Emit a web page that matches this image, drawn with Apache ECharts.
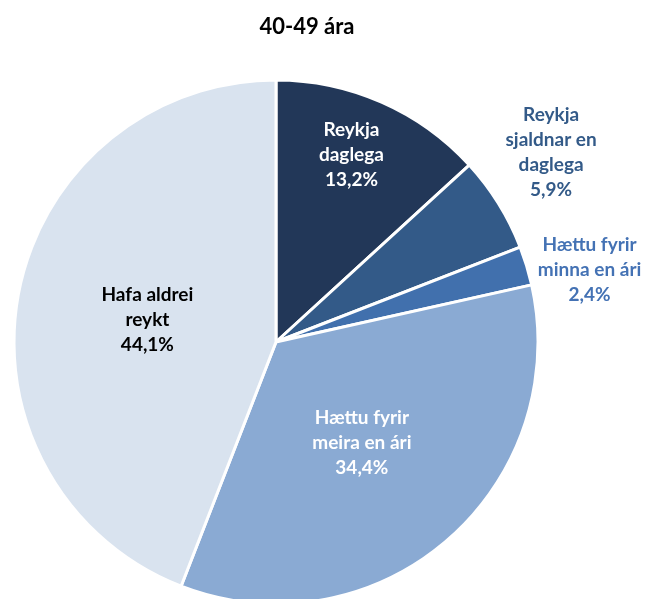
<!DOCTYPE html>
<html>
<head>
<meta charset="utf-8">
<script src="https://cdn.jsdelivr.net/npm/echarts@6/dist/echarts.min.js"></script>
<style>
  html, body { margin: 0; padding: 0; background: #fff; }
  #chart { width: 665px; height: 599px; }
</style>
</head>
<body>
<div id="chart"></div>
<script>
const titleText = "40-49 ára";
const categories = [
  "Reykja\ndaglega",
  "Reykja\nsjaldnar en\ndaglega",
  "Hættu fyrir\nminna en ári",
  "Hættu fyrir\nmeira en ári",
  "Hafa aldrei\nreykt"
];
const values = [13.2, 5.9, 2.4, 34.4, 44.1];
const colors = ["#223758", "#335a88", "#4170ad", "#8aaad3", "#d9e3ef"];
const labelColors = ["#ffffff", "#335a88", "#4472b4", "#ffffff", "#000000"];

const FONT = "Lato, 'Noto Sans', sans-serif";
const cx = 276, cy = 342, R = 262;
// label placement: fraction of radius and angular nudge (degrees) per slice
const labelReach = [0.77, 1.275, 1.228, 0.506, 0.498];
const labelNudge = [-1.8, -2.7, 4.0, 0.3, -0.9];

const total = values.reduce((a, b) => a + b, 0);
const midAngles = [];
let acc = 0;
values.forEach(v => {
  midAngles.push((acc + v / 2) / total * 360);
  acc += v;
});

const chart = echarts.init(document.getElementById("chart"));
chart.setOption({
  animation: false,
  title: {
    text: titleText,
    left: 302,
    top: 11,
    textAlign: "center",
    textStyle: { fontFamily: FONT, fontWeight: "bold", fontSize: 22, color: "#000" }
  },
  series: [{
    type: "pie",
    center: [cx, cy],
    radius: [0, R],
    startAngle: 90,
    clockwise: true,
    data: values.map((v, i) => ({
      name: categories[i],
      value: v,
      itemStyle: { color: colors[i] },
      label: { color: labelColors[i] }
    })),
    itemStyle: { borderColor: "#fff", borderWidth: 3 },
    label: {
      show: true,
      position: "inside",
      formatter: p => p.name + "\n" + p.value.toFixed(1).replace(".", ",") + "%",
      fontFamily: FONT,
      fontWeight: "bold",
      fontSize: 19,
      lineHeight: 25,
      align: "center"
    },
    labelLine: { show: false },
    labelLayout: p => {
      const i = p.dataIndex;
      const a = (midAngles[i] + labelNudge[i]) * Math.PI / 180;
      return {
        x: cx + labelReach[i] * R * Math.sin(a),
        y: cy - labelReach[i] * R * Math.cos(a),
        align: "center",
        verticalAlign: "middle"
      };
    }
  }]
});
</script>
</body>
</html>
